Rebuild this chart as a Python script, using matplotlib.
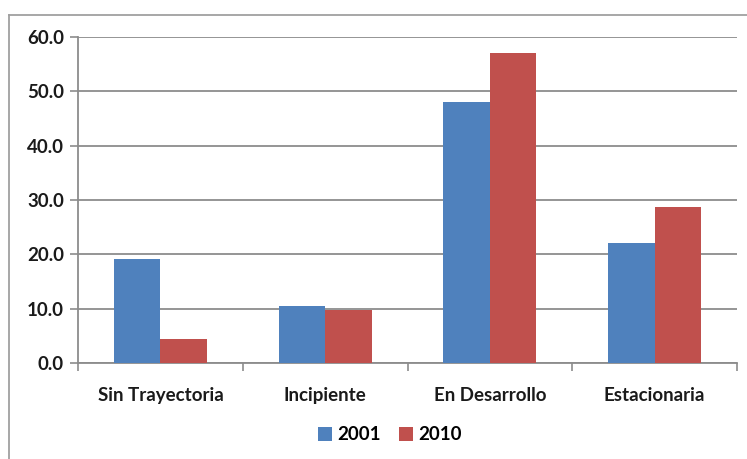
import matplotlib
matplotlib.use("Agg")
import matplotlib.pyplot as plt
import numpy as np
from matplotlib.lines import Line2D
from matplotlib.patches import Patch

categories = ["Sin Trayectoria", "Incipiente", "En Desarrollo", "Estacionaria"]
series_names = ["2001", "2010"]
values_2001 = [19.2, 10.5, 48.1, 22.0]
values_2010 = [4.4, 9.8, 57.0, 28.7]
y_ticks = [0, 10, 20, 30, 40, 50, 60]

blue = "#4F81BD"
red = "#C0504D"
grid_col = "#8C8C8C"

plt.rcParams["font.family"] = ["Lato", "DejaVu Sans"]
fs = 13.5

W, H = 747, 459
fig = plt.figure(figsize=(W / 100, H / 100), dpi=100)
ax = fig.add_axes([78 / W, 1 - 363 / H, (737 - 78) / W, (363 - 37) / H])

x = np.arange(len(categories))
bw = 0.283
ax.bar(x - bw / 2, values_2001, bw, color=blue, zorder=3)
ax.bar(x + bw / 2, values_2010, bw, color=red, zorder=3)

ax.set_xlim(-0.5, len(categories) - 0.5)
ax.set_ylim(0, 60)
ax.set_yticks(y_ticks)
ax.set_yticklabels([f"{v:.1f}" for v in y_ticks], fontsize=fs, fontweight="bold", color="#1a1a1a")
ax.yaxis.grid(True, color=grid_col, linewidth=1.3, zorder=0)
ax.tick_params(axis="y", length=6, width=1.2, color=grid_col, pad=4)

# categories labelled at centres, ticks at the boundaries
ax.set_xticks(x)
ax.set_xticklabels(categories, fontsize=fs, fontweight="bold", color="#1a1a1a")
ax.tick_params(axis="x", length=0, pad=17)
ax.set_xticks(np.arange(-0.5, len(categories)), minor=True)
ax.tick_params(axis="x", which="minor", length=6, width=1.2, color=grid_col)

for s in ["top", "right"]:
    ax.spines[s].set_visible(False)
for s in ["left", "bottom"]:
    ax.spines[s].set_color(grid_col)
    ax.spines[s].set_linewidth(1.3)

# chart-area frame (top and left edges)
fig.add_artist(Line2D([9 / W, 9 / W], [0, 1 - 15 / H], transform=fig.transFigure,
                      color="#A0A0A0", linewidth=1.3))
fig.add_artist(Line2D([9 / W, 1], [1 - 15 / H, 1 - 15 / H], transform=fig.transFigure,
                      color="#A0A0A0", linewidth=1.3))

handles = [Patch(facecolor=blue, label=series_names[0]),
           Patch(facecolor=red, label=series_names[1])]
fig.legend(handles=handles, loc="center", bbox_to_anchor=(390 / W, 1 - 435 / H),
           ncol=2, frameon=False, prop={"size": fs, "weight": "bold"},
           handlelength=0.7, handleheight=0.7, handletextpad=0.3, columnspacing=1.0)

fig.savefig("out.png", dpi=100, facecolor="white")
